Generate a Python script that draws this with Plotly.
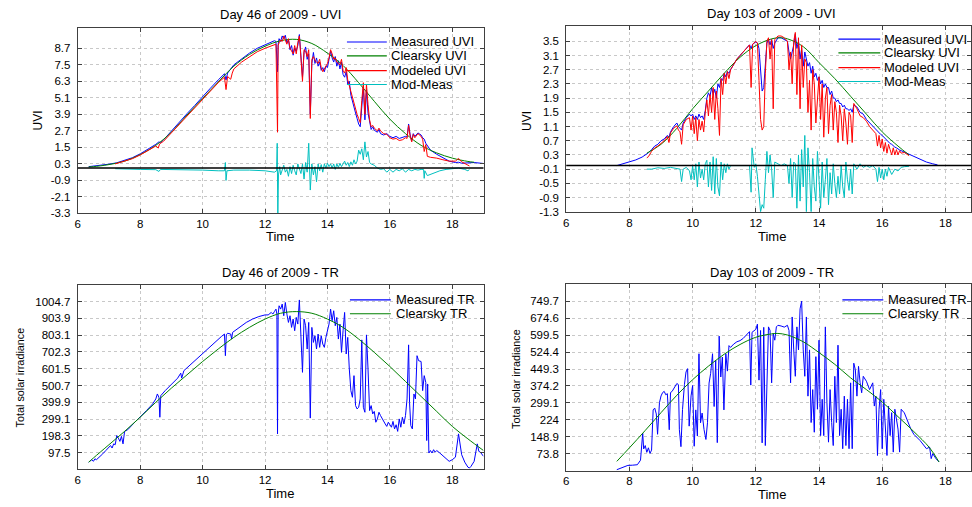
import plotly.graph_objects as go

# ------------------------------------------------------------------ DATA
# ---- Day 46 - UVI
t_cs_46 = [6.35, 6.5, 7.0, 7.5, 8.0, 8.5, 9.0, 9.5, 10.0, 10.5, 11.0, 11.5, 12.0, 12.5,
           13.0, 13.5, 14.0, 14.5, 15.0, 15.5, 16.0, 16.5, 17.0, 17.5, 18.0, 18.5, 18.7]
uvi_cs_46 = [0.08, 0.1, 0.25, 0.5, 0.98, 1.65, 2.6, 3.85, 5.05, 6.25, 7.4, 8.25, 8.85, 9.25,
             9.35, 9.05, 8.35, 7.45, 6.2, 4.85, 3.55, 2.5, 1.65, 1.1, 0.72, 0.48, 0.42]

t_meas_46_early = [6.35, 6.75, 7.0, 7.25, 7.5, 7.75, 8.0, 8.25, 8.5, 8.6,
                   8.65, 8.75, 9.0, 9.25, 9.5, 9.75, 10.0, 10.25, 10.5, 10.7,
                   10.75, 10.8, 11.0, 11.25, 11.5, 11.75, 12.0, 12.15, 12.3]
uvi_meas_46_early = [0.1, 0.2, 0.28, 0.38, 0.55, 0.75, 1.03, 1.35, 1.72, 1.9,
                     1.85, 2.05, 2.7, 3.3, 3.95, 4.55, 5.2, 5.8, 6.4, 6.85,
                     6.4, 6.9, 7.5, 7.95, 8.35, 8.7, 8.95, 9.1, 9.25]

t_mod_46_early = [7.2, 7.5, 7.75, 8.0, 8.25, 8.5, 8.58, 8.62, 8.75, 9.0,
                  9.25, 9.5, 9.75, 10.0, 10.25, 10.5, 10.7, 10.75, 10.8, 10.9,
                  10.95, 11.0, 11.25, 11.5, 11.75, 12.0, 12.15, 12.3]
uvi_mod_46_early = [0.3, 0.48, 0.68, 0.95, 1.25, 1.6, 1.45, 1.75, 1.95, 2.55,
                    3.15, 3.8, 4.4, 5.0, 5.6, 6.2, 6.6, 5.7, 6.65, 6.45,
                    6.9, 7.2, 7.7, 8.1, 8.45, 8.7, 8.85, 9.0]

t_46_noisy = [12.35, 12.40, 12.42, 12.45, 12.50, 12.55, 12.60, 12.65, 12.70, 12.75,
              12.80, 12.85, 12.90, 12.95, 13.00, 13.05, 13.10, 13.15, 13.20, 13.25,
              13.30, 13.35, 13.40, 13.45, 13.50, 13.55, 13.60, 13.65, 13.70, 13.75,
              13.80, 13.85, 13.90, 13.95, 14.00, 14.05, 14.10, 14.15, 14.20, 14.25,
              14.30, 14.35, 14.40, 14.45, 14.50, 14.55, 14.60, 14.65, 14.70, 14.75,
              14.80, 14.85, 14.90, 14.95, 15.00, 15.05, 15.10, 15.15, 15.20, 15.25,
              15.30, 15.35, 15.40, 15.45, 15.50, 15.60, 15.65, 15.70, 15.80, 15.90,
              16.00, 16.10, 16.20, 16.30, 16.40, 16.50, 16.55, 16.60, 16.65, 16.70,
              16.75, 16.80, 16.90, 17.00, 17.05, 17.10, 17.15, 17.20, 17.30, 17.50,
              17.70, 17.90, 18.10, 18.20, 18.30, 18.50, 18.55]
uvi_meas_46_noisy = [9.2, 7.0, 9.0, 9.4, 9.2, 9.6, 9.4, 9.65, 9.1, 9.3,
                     8.6, 8.9, 8.2, 8.7, 8.5, 8.9, 9.7, 8.3, 6.6, 8.4,
                     8.8, 7.9, 8.3, 3.9, 7.6, 8.4, 7.6, 8.0, 7.4, 7.7,
                     7.1, 7.3, 7.0, 7.4, 7.3, 7.9, 8.5, 8.0, 7.7, 8.1,
                     7.4, 7.8, 7.2, 7.7, 6.8, 6.6, 7.0, 6.1, 6.3, 5.3,
                     4.8, 4.3, 4.0, 3.6, 3.2, 3.0, 4.5, 5.9, 3.5, 5.7,
                     4.0, 3.3, 2.8, 3.0, 2.75, 2.6, 2.8, 2.5, 2.4, 2.5,
                     2.3, 2.2, 2.3, 2.15, 2.2, 2.3, 2.25, 3.2, 2.4, 2.0,
                     2.5, 2.3, 2.55, 2.4, 2.2, 2.1, 1.8, 1.6, 1.3, 1.0,
                     0.72, 0.5, 0.4, 0.42, 0.35, 0.38, 0.4]
uvi_mod_46_noisy = [9.0, 2.6, 8.9, 9.1, 9.3, 9.2, 9.6, 9.3, 9.0, 9.4,
                    8.7, 8.5, 8.3, 8.9, 8.3, 9.1, 9.6, 8.0, 6.3, 8.6,
                    8.5, 8.1, 8.6, 3.6, 7.9, 8.1, 7.8, 7.7, 7.6, 7.9,
                    7.3, 7.0, 7.2, 7.3, 7.6, 8.0, 8.6, 8.3, 7.9, 8.0,
                    7.7, 7.6, 7.5, 7.9, 7.1, 6.9, 7.3, 6.4, 6.0, 5.6,
                    5.1, 4.6, 4.3, 3.9, 3.6, 3.3, 4.9, 6.2, 3.9, 6.1,
                    4.6, 3.5, 3.0, 3.1, 2.9, 2.7, 2.9, 2.7, 2.5, 2.45,
                    2.2, 2.1, 2.15, 2.0, 2.05, 2.2, 2.15, 3.1, 2.3, 1.9,
                    2.45, 2.2, 2.5, 2.3, 2.1, 1.2, 1.7, 0.85, 0.78, 0.72,
                    0.6, 0.5, 0.5, 0.7, 0.45, 0.25, 0.15]
t_meas_46_late = [18.7, 19.0]
uvi_meas_46_late = [0.4, 0.33]

t_diff_46 = [7.2, 7.5, 8.0, 8.5, 8.6, 8.65, 9.0, 9.5, 10.0, 10.5,
             10.7, 10.73, 10.75, 10.78, 11.0, 11.5, 12.0, 12.3, 12.37, 12.39,
             12.41, 12.43, 12.47, 12.5, 12.55, 12.6, 12.65, 12.7, 12.75, 12.8,
             12.85, 12.9, 12.95, 13.0, 13.05, 13.1, 13.15, 13.2, 13.25, 13.3,
             13.35, 13.4, 13.42, 13.45, 13.5, 13.55, 13.6, 13.65, 13.7, 13.75,
             13.8, 13.85, 13.9, 13.95, 14.0, 14.05, 14.1, 14.15, 14.2, 14.25,
             14.3, 14.35, 14.4, 14.45, 14.5, 14.55, 14.6, 14.65, 14.7, 14.75,
             14.8, 14.85, 14.9, 14.95, 15.0, 15.05, 15.1, 15.15, 15.2, 15.25,
             15.3, 15.35, 15.4, 15.5, 15.6, 15.7, 15.8, 15.9, 16.0, 16.1,
             16.2, 16.3, 16.4, 16.5, 16.6, 16.7, 16.8, 16.9, 17.0, 17.08,
             17.1, 17.12, 17.2, 17.4, 17.6, 17.8, 18.0, 18.2, 18.4, 18.5,
             18.55]
uvi_diff_46 = [-0.05, -0.08, -0.1, -0.12, -0.25, -0.1, -0.1, -0.12, -0.15, -0.2,
               -0.2, 0.4, -0.9, -0.2, -0.15, -0.15, -0.2, -0.3, -0.2, 1.8,
               -3.6, -0.5, 0.1, -0.5, -0.1, 0.2, -0.3, -0.1, -0.6, 0.1,
               -0.4, 0.2, -0.2, -0.5, 0.3, -0.1, -0.4, 0.3, -0.8, 0.4,
               -0.3, 1.8, -0.3, -1.6, 0.3, -0.5, 0.1, -1.0, 0.3, -0.2,
               0.25, -0.3, 0.3, 0.0, 0.35, 0.1, 0.3, 0.0, 0.3, -0.1,
               0.3, 0.05, 0.35, 0.1, 0.3, 0.5, 0.2, 0.4, 0.1, 0.45,
               0.2, 0.6, 0.3, 0.5, 1.3, 1.0, 1.4, 0.6, 1.9, 0.8,
               1.2, 0.4, 0.3, 0.2, 0.0, -0.1, -0.05, -0.3, -0.1, -0.3,
               -0.1, -0.2, -0.05, -0.3, -0.1, -0.2, -0.1, -0.15, -0.1, -0.1,
               -0.75, -0.2, -0.55, -0.35, -0.2, -0.1, -0.05, 0.0, -0.1, -0.2,
               -0.1]

# ---- Day 103 - UVI
t_cs_103 = [8.55, 9.0, 9.5, 10.0, 10.5, 11.0, 11.5, 12.0, 12.5, 12.75,
            13.0, 13.5, 14.0, 14.5, 15.0, 15.5, 16.0, 16.5, 16.85]
uvi_cs_103 = [0.35, 0.6, 1.05, 1.6, 2.1, 2.6, 3.05, 3.38, 3.57, 3.6,
              3.57, 3.35, 2.9, 2.45, 1.95, 1.45, 0.95, 0.55, 0.3]

t_103 = [8.55, 8.6, 8.7, 8.8, 8.9, 9.0, 9.1, 9.2, 9.25, 9.3,
         9.4, 9.5, 9.55, 9.6, 9.65, 9.7, 9.8, 9.9, 9.95, 10.0,
         10.05, 10.1, 10.15, 10.2, 10.25, 10.3, 10.35, 10.4, 10.45, 10.5,
         10.55, 10.6, 10.65, 10.7, 10.75, 10.8, 10.85, 10.9, 10.95, 11.0,
         11.05, 11.1, 11.15, 11.2, 11.3, 11.4, 11.5, 11.6, 11.7, 11.8,
         11.85, 11.9, 12.0, 12.05, 12.1, 12.15, 12.2, 12.25, 12.3, 12.35,
         12.4, 12.45, 12.5, 12.55, 12.6, 12.7, 12.8, 12.9, 13.0, 13.05,
         13.1, 13.15, 13.2, 13.25, 13.3, 13.35, 13.4, 13.45, 13.5, 13.55,
         13.6, 13.65, 13.7, 13.75, 13.8, 13.85, 13.9, 13.95, 14.0, 14.05,
         14.1, 14.15, 14.2, 14.25, 14.3, 14.35, 14.4, 14.45, 14.5, 14.55,
         14.6, 14.65, 14.7, 14.75, 14.8, 14.85, 14.9, 14.95, 15.0, 15.05,
         15.1, 15.2, 15.3, 15.4, 15.5, 15.6, 15.7, 15.8, 15.85, 15.9,
         15.95, 16.0, 16.05, 16.1, 16.15, 16.2, 16.25, 16.3, 16.35, 16.4,
         16.45, 16.5, 16.55, 16.6, 16.7, 16.8, 16.85]
uvi_meas_103_mid = [0.32, 0.36, 0.45, 0.55, 0.6, 0.7, 0.75, 0.85, 0.8, 0.95,
                    1.1, 1.2, 1.1, 1.05, 1.0, 1.2, 1.35, 1.45, 1.4, 1.45,
                    1.3, 1.4, 1.3, 1.45, 1.35, 1.4, 1.3, 1.55, 1.9, 2.05,
                    1.95, 2.2, 2.0, 2.15, 1.9, 2.3, 2.2, 2.45, 2.4, 2.6,
                    2.5, 2.65, 2.6, 2.7, 2.85, 3.0, 3.1, 3.2, 3.3, 3.4,
                    3.3, 3.42, 3.48, 3.45, 3.3, 2.6, 2.1, 2.2, 3.0, 3.45,
                    3.55, 3.4, 3.55, 3.3, 3.45, 3.6, 3.6, 3.55, 3.5, 3.2,
                    3.0, 3.2, 3.4, 3.7, 3.3, 3.5, 3.0, 3.3, 2.8, 3.2,
                    3.0, 2.8, 2.9, 2.6, 2.8, 2.5, 2.6, 2.4, 2.5, 2.3,
                    2.4, 2.2, 2.3, 2.2, 2.2, 2.0, 2.1, 1.9, 1.9, 1.8,
                    1.85, 1.75, 1.75, 1.65, 1.7, 1.6, 1.6, 1.55, 1.6, 1.5,
                    1.7, 1.65, 1.5, 1.45, 1.3, 1.2, 1.1, 1.0, 0.95, 0.92,
                    0.88, 0.85, 0.8, 0.75, 0.7, 0.68, 0.62, 0.6, 0.55, 0.52,
                    0.5, 0.46, 0.44, 0.42, 0.38, 0.33, 0.3]
uvi_mod_103 = [0.22, 0.25, 0.4, 0.5, 0.55, 0.62, 0.7, 0.82, 0.65, 0.92,
               1.05, 1.12, 1.0, 0.95, 0.6, 1.15, 1.3, 1.35, 1.0, 1.4,
               0.9, 1.35, 0.7, 1.3, 1.0, 1.25, 0.95, 1.5, 1.85, 1.4,
               2.0, 1.5, 2.2, 1.3, 2.1, 1.6, 0.85, 2.45, 2.0, 2.6,
               2.3, 2.65, 2.45, 2.7, 2.85, 3.0, 3.1, 3.2, 3.3, 3.4,
               2.2, 3.42, 3.5, 3.45, 2.4, 1.3, 1.0, 1.1, 2.6, 3.5,
               3.6, 3.0, 3.55, 1.6, 3.55, 3.65, 3.65, 3.6, 3.5, 2.7,
               3.2, 2.3, 3.5, 3.75, 2.0, 3.6, 1.6, 3.4, 2.2, 3.0,
               2.9, 1.5, 2.4, 1.0, 2.7, 2.3, 1.2, 1.8, 2.5, 1.3,
               2.3, 0.8, 1.9, 2.2, 0.9, 1.7, 2.0, 1.0, 1.8, 1.5,
               0.65, 1.7, 1.4, 0.7, 1.6, 1.2, 0.6, 1.5, 1.4, 0.65,
               1.75, 1.6, 1.4, 1.35, 1.25, 1.1, 1.0, 0.9, 0.55, 0.85,
               0.5, 0.75, 0.4, 0.65, 0.35, 0.6, 0.45, 0.3, 0.5, 0.3,
               0.45, 0.3, 0.42, 0.35, 0.37, 0.32, 0.28]
t_meas_103_early = [7.6, 7.8, 8.0, 8.2, 8.4]
uvi_meas_103_early = [0.0, 0.05, 0.1, 0.16, 0.24]
t_meas_103_late = [17.0, 17.2, 17.4, 17.6, 17.75]
uvi_meas_103_late = [0.24, 0.16, 0.1, 0.05, 0.02]

t_diff_103 = [8.55, 8.7, 8.9, 9.1, 9.3, 9.5, 9.6, 9.65, 9.7, 9.8,
              9.9, 9.95, 10.0, 10.05, 10.1, 10.15, 10.2, 10.25, 10.3, 10.35,
              10.4, 10.45, 10.5, 10.55, 10.6, 10.65, 10.7, 10.75, 10.8, 10.85,
              10.9, 10.95, 11.0, 11.05, 11.1, 11.15, 11.2, 11.5, 11.8, 11.85,
              11.88, 11.95, 12.0, 12.05, 12.1, 12.15, 12.2, 12.25, 12.3, 12.35,
              12.4, 12.45, 12.5, 12.55, 12.6, 12.7, 12.8, 12.9, 13.0, 13.05,
              13.1, 13.15, 13.2, 13.25, 13.3, 13.35, 13.4, 13.45, 13.5, 13.55,
              13.6, 13.65, 13.7, 13.75, 13.8, 13.85, 13.9, 13.95, 14.0, 14.05,
              14.1, 14.15, 14.2, 14.25, 14.3, 14.35, 14.4, 14.45, 14.5, 14.55,
              14.6, 14.65, 14.7, 14.75, 14.8, 14.85, 14.9, 14.95, 15.0, 15.05,
              15.1, 15.2, 15.3, 15.4, 15.5, 15.6, 15.7, 15.8, 15.85, 15.9,
              15.95, 16.0, 16.05, 16.1, 16.15, 16.2, 16.3, 16.4, 16.5, 16.6,
              16.7, 16.85]
uvi_diff_103 = [-0.1, -0.1, -0.06, -0.08, -0.05, -0.08, -0.1, -0.45, -0.1, -0.05,
                -0.15, -0.4, 0.0, -0.4, 0.05, -0.6, 0.1, -0.35, -0.1, -0.4,
                0.05, 0.15, -0.6, 0.1, -0.7, 0.25, -0.8, 0.2, -0.6, -0.85,
                0.1, -0.4, 0.05, -0.2, 0.05, -0.1, 0.0, 0.0, 0.0, -0.75,
                0.5, -0.05, 0.05, -0.3, -0.9, -1.3, -1.1, -1.2, -0.4, 0.4,
                -0.2, 0.3, -0.1, -0.9, 0.1, 0.05, 0.0, 0.05, 0.0, -0.5,
                0.2, -0.9, 0.1, 0.05, -1.2, 0.3, -1.0, 0.45, -0.6, 0.85,
                -1.3, 0.5, -0.2, -1.3, 0.2, -0.6, -1.0, 0.4, -0.3, -1.2,
                0.1, -0.9, -0.4, 0.2, -1.1, -0.2, -0.8, 0.05, -0.5, -0.9,
                -0.3, -0.8, 0.0, -0.6, -0.9, 0.1, -0.4, -0.7, -0.1, -0.8,
                0.05, -0.1, 0.05, -0.05, 0.0, -0.05, 0.0, -0.1, -0.45, -0.05,
                -0.35, -0.1, -0.4, -0.1, -0.3, -0.05, -0.25, -0.1, -0.15, -0.05,
                -0.03, -0.02]

# ---- Day 46 - TR
t_tr_cs_46 = [6.35, 6.5, 7.0, 7.5, 8.0, 8.5, 9.0, 9.5, 10.0, 10.5, 11.0, 11.5, 12.0, 12.5,
              13.0, 13.5, 14.0, 14.5, 15.0, 15.5, 16.0, 16.5, 17.0, 17.5, 18.0, 18.5, 19.0]
tr_cs_46 = [40, 65, 145, 225, 310, 400, 485, 565, 645, 720, 790, 850, 900, 935,
            945, 935, 900, 850, 780, 700, 615, 525, 435, 345, 255, 180, 110]

t_tr_meas_46 = [6.35, 6.45, 6.5, 6.55, 6.6, 6.7, 6.8, 6.9, 7.0, 7.05,
                7.1, 7.15, 7.2, 7.25, 7.3, 7.35, 7.4, 7.45, 7.5, 7.6,
                7.8, 8.0, 8.2, 8.4, 8.5, 8.55, 8.6, 8.63, 8.66, 8.8,
                9.0, 9.2, 9.3, 9.33, 9.4, 9.6, 9.8, 10.0, 10.2, 10.4,
                10.6, 10.7, 10.73, 10.76, 10.8, 10.9, 10.93, 10.96, 11.2, 11.4,
                11.6, 11.8, 12.0, 12.1, 12.2, 12.25, 12.3, 12.35, 12.38, 12.4,
                12.42, 12.45, 12.5, 12.55, 12.6, 12.65, 12.7, 12.75, 12.8, 12.85,
                12.9, 12.95, 13.0, 13.05, 13.1, 13.15, 13.2, 13.25, 13.3, 13.35,
                13.4, 13.45, 13.5, 13.55, 13.6, 13.65, 13.7, 13.75, 13.8, 13.85,
                13.9, 13.95, 14.0, 14.05, 14.1, 14.15, 14.2, 14.25, 14.3, 14.35,
                14.4, 14.45, 14.5, 14.55, 14.6, 14.65, 14.7, 14.75, 14.8, 14.85,
                14.9, 14.95, 15.0, 15.05, 15.1, 15.15, 15.2, 15.25, 15.3, 15.35,
                15.4, 15.45, 15.5, 15.55, 15.6, 15.65, 15.7, 15.75, 15.8, 15.85,
                15.9, 15.95, 16.0, 16.05, 16.1, 16.15, 16.2, 16.25, 16.3, 16.35,
                16.4, 16.45, 16.5, 16.55, 16.6, 16.63, 16.67, 16.72, 16.77, 16.82,
                16.87, 16.92, 17.0, 17.05, 17.1, 17.15, 17.18, 17.21, 17.25, 17.3,
                17.35, 17.4, 17.45, 17.5, 17.6, 17.7, 17.8, 17.9, 18.0, 18.1,
                18.2, 18.25, 18.3, 18.4, 18.5, 18.55, 18.6, 18.7, 18.8, 18.85,
                18.9, 19.0]
tr_meas_46 = [40, 55, 45, 60, 55, 70, 90, 110, 130, 140,
              125, 150, 145, 200, 185, 165, 195, 150, 225, 235,
              275, 310, 350, 390, 420, 450, 430, 310, 440, 470,
              505, 545, 575, 545, 590, 625, 660, 695, 730, 765,
              795, 810, 680, 805, 815, 810, 780, 820, 855, 880,
              900, 915, 925, 925, 940, 930, 945, 960, 930, 210,
              930, 980, 960, 990, 920, 1000, 930, 880, 920, 850,
              900, 830, 910, 870, 1015, 820, 580, 900, 860, 720,
              880, 305, 850, 760, 800, 720, 810, 730, 800, 750,
              730, 790, 830, 870, 960, 890, 950, 860, 910, 780,
              870, 700, 830, 940, 690, 790, 600, 470, 430, 560,
              380, 360, 370, 420, 775, 370, 340, 805, 600, 350,
              380, 330, 345, 280, 300, 340, 320, 300, 280, 270,
              255, 280, 265, 250, 285, 240, 265, 225, 300, 250,
              310, 270, 320, 420, 745, 400, 260, 240, 450, 420,
              680, 650, 645, 470, 560, 520, 170, 510, 95, 110,
              95, 115, 100, 110, 95, 80, 60, 45, 55, 70,
              210, 130, 85, 40, 10, 5, 15, 45, 150, 105,
              100, 75]

# ---- Day 103 - TR
t_tr_cs_103 = [7.6, 8.0, 8.5, 9.0, 9.5, 10.0, 10.5, 11.0, 11.5, 12.0, 12.5, 12.7,
               13.0, 13.5, 14.0, 14.5, 15.0, 15.5, 16.0, 16.5, 17.0, 17.5, 17.8]
tr_cs_103 = [40, 100, 177, 256, 333, 402, 462, 515, 558, 590, 605, 607,
             600, 570, 522, 470, 410, 358, 303, 238, 172, 100, 37]

t_tr_meas_103 = [7.6, 7.8, 7.95, 8.1, 8.25, 8.35, 8.42, 8.45, 8.5, 8.55,
                 8.6, 8.65, 8.7, 8.75, 8.8, 8.85, 8.89, 8.95, 9.0, 9.05,
                 9.1, 9.15, 9.2, 9.26, 9.3, 9.35, 9.4, 9.45, 9.5, 9.55,
                 9.58, 9.63, 9.68, 9.74, 9.79, 9.84, 9.89, 9.95, 10.0, 10.05,
                 10.1, 10.15, 10.2, 10.25, 10.3, 10.36, 10.42, 10.47, 10.52, 10.57,
                 10.63, 10.68, 10.73, 10.78, 10.84, 10.89, 10.94, 10.99, 11.05, 11.1,
                 11.15, 11.2, 11.3, 11.4, 11.5, 11.6, 11.7, 11.8, 11.84, 11.88,
                 12.0, 12.05, 12.1, 12.15, 12.2, 12.25, 12.3, 12.35, 12.4, 12.45,
                 12.5, 12.55, 12.6, 12.65, 12.7, 12.8, 12.9, 13.0, 13.05, 13.1,
                 13.15, 13.2, 13.25, 13.3, 13.35, 13.4, 13.45, 13.5, 13.55, 13.6,
                 13.65, 13.7, 13.75, 13.8, 13.85, 13.9, 13.95, 14.0, 14.05, 14.1,
                 14.15, 14.2, 14.25, 14.3, 14.35, 14.4, 14.45, 14.5, 14.55, 14.6,
                 14.65, 14.7, 14.75, 14.8, 14.85, 14.9, 14.95, 15.0, 15.05, 15.1,
                 15.15, 15.2, 15.25, 15.3, 15.35, 15.4, 15.5, 15.6, 15.7, 15.75,
                 15.8, 15.85, 15.9, 15.95, 16.0, 16.05, 16.1, 16.15, 16.2, 16.25,
                 16.3, 16.35, 16.4, 16.5, 16.55, 16.6, 16.7, 16.8, 16.9, 17.0,
                 17.2, 17.4, 17.5, 17.55, 17.6, 17.7, 17.8]
tr_meas_103 = [3, 12, 22, 23, 25, 45, 165, 95, 110, 80,
               100, 75, 90, 268, 276, 250, 160, 300, 330, 345,
               350, 335, 340, 180, 345, 350, 360, 370, 385, 380,
               180, 105, 270, 380, 436, 451, 196, 330, 376, 107,
               268, 152, 517, 211, 254, 181, 137, 211, 387, 430,
               517, 283, 488, 123, 595, 414, 502, 268, 517, 440,
               553, 545, 560, 570, 575, 585, 600, 615, 378, 612,
               625, 648, 400, 620, 122, 634, 110, 400, 636, 620,
               388, 607, 577, 636, 643, 640, 635, 643, 620, 388,
               680, 534, 417, 636, 534, 716, 750, 534, 417, 680,
               329, 534, 212, 358, 169, 504, 271, 577, 154, 315,
               154, 636, 300, 125, 358, 212, 110, 417, 212, 555,
               154, 271, 96, 329, 110, 315, 96, 388, 96, 475,
               446, 329, 461, 388, 344, 417, 395, 358, 388, 285,
               329, 66, 271, 358, 96, 315, 212, 66, 285, 154,
               256, 81, 271, 183, 81, 271, 255, 215, 185, 160,
               132, 96, 103, 52, 74, 52, 37]

# ---- axis ticks / labels
x_ticks = [6, 8, 10, 12, 14, 16, 18]
y_ticks_uvi_46 = [-3.3, -2.1, -0.9, 0.3, 1.5, 2.7, 3.9, 5.1, 6.3, 7.5, 8.7]
y_ticks_uvi_103 = [-1.3, -0.9, -0.5, -0.1, 0.3, 0.7, 1.1, 1.5, 1.9, 2.3, 2.7, 3.1, 3.5]
y_ticks_tr_46 = [97.5, 198.3, 299.1, 399.9, 500.7, 601.5, 702.3, 803.1, 903.9, 1004.7]
y_ticks_tr_103 = [73.8, 148.9, 224, 299.1, 374.2, 449.3, 524.4, 599.5, 674.6, 749.7]

titles = ["Day 46 of 2009 - UVI", "Day 103 of 2009 - UVI",
          "Day 46 of 2009 - TR", "Day 103 of 2009 - TR"]
legend_uvi = ["Measured UVI", "Clearsky UVI", "Modeled UVI", "Mod-Meas"]
legend_tr = ["Measured TR", "Clearsky TR"]

# ------------------------------------------------------------------ STYLE
W, H = 972, 507
FONT = "Liberation Sans, Arial, sans-serif"
BLUE, GREEN, RED, CYAN = "#0000FF", "#008000", "#FF0000", "#00BFBF"
FRAME = "#404040"
GRID = "#c8c8c8"


def px(x):
    return x / W


def py(y):
    return 1 - y / H


fig = go.Figure()


def line(x, y, color, name, xa, ya, shape="linear"):
    fig.add_trace(go.Scatter(x=x, y=y, mode="lines", name=name, showlegend=False,
                             line=dict(color=color, width=1, shape=shape),
                             xaxis=xa, yaxis=ya, hoverinfo="skip"))


# top-left: Day 46 UVI
line(t_meas_46_early + t_46_noisy + t_meas_46_late,
     uvi_meas_46_early + uvi_meas_46_noisy + uvi_meas_46_late, BLUE, legend_uvi[0], "x", "y")
line(t_cs_46, uvi_cs_46, GREEN, legend_uvi[1], "x", "y", "spline")
line(t_mod_46_early + t_46_noisy, uvi_mod_46_early + uvi_mod_46_noisy, RED, legend_uvi[2], "x", "y")
line(t_diff_46, uvi_diff_46, CYAN, legend_uvi[3], "x", "y")

# top-right: Day 103 UVI
line(t_meas_103_early + t_103 + t_meas_103_late,
     uvi_meas_103_early + uvi_meas_103_mid + uvi_meas_103_late, BLUE, legend_uvi[0], "x2", "y2")
line(t_cs_103, uvi_cs_103, GREEN, legend_uvi[1], "x2", "y2", "spline")
line(t_103, uvi_mod_103, RED, legend_uvi[2], "x2", "y2")
line(t_diff_103, uvi_diff_103, CYAN, legend_uvi[3], "x2", "y2")

# bottom-left: Day 46 TR
line(t_tr_meas_46, tr_meas_46, BLUE, legend_tr[0], "x3", "y3")
line(t_tr_cs_46, tr_cs_46, GREEN, legend_tr[1], "x3", "y3", "spline")

# bottom-right: Day 103 TR
line(t_tr_meas_103, tr_meas_103, BLUE, legend_tr[0], "x4", "y4")
line(t_tr_cs_103, tr_cs_103, GREEN, legend_tr[1], "x4", "y4", "spline")

common = dict(showline=True, linecolor=FRAME, linewidth=1, mirror="ticks",
              ticks="inside", ticklen=4, tickcolor=FRAME, tickwidth=1,
              showgrid=True, gridcolor=GRID, griddash="3px,3px", gridwidth=1,
              zeroline=False, tickfont=dict(family=FONT, size=11.5, color="black"))


def xaxis(dom, rng, anchor):
    return dict(domain=[px(dom[0]), px(dom[1])], range=rng, anchor=anchor,
                tickvals=x_ticks, ticktext=[str(v) for v in x_ticks], **common)


def yaxis(dom, rng, anchor, ticks):
    return dict(domain=[py(dom[1]), py(dom[0])], range=rng, anchor=anchor,
                tickvals=ticks, ticktext=[str(v) for v in ticks],
                ticklabelstandoff=4, **common)


fig.update_layout(
    width=W, height=H, margin=dict(l=0, r=0, t=0, b=0),
    paper_bgcolor="white", plot_bgcolor="white",
    font=dict(family=FONT, color="black"),
    showlegend=False,
    xaxis=xaxis((75, 482), [6, 19], "y"),
    yaxis=yaxis((28, 216), [-3.3, 10.2], "x", y_ticks_uvi_46),
    xaxis2=xaxis((565, 971), [6, 18.81], "y2"),
    yaxis2=yaxis((26, 214.3), [-1.3, 3.94], "x2", y_ticks_uvi_103),
    xaxis3=xaxis((75, 482), [6, 19], "y3"),
    yaxis3=yaxis((288.3, 475), [-3.3, 1105.5], "x3", y_ticks_tr_46),
    xaxis4=xaxis((565, 971), [6, 18.81], "y4"),
    yaxis4=yaxis((287.7, 476.3), [-1.3, 824.8], "x4", y_ticks_tr_103),
)

# zero reference lines on UVI panels
for xr, yr in (("x domain", "y"), ("x2 domain", "y2")):
    fig.add_shape(type="line", xref=xr, yref=yr, x0=0, x1=1, y0=0, y1=0,
                  line=dict(color="black", width=1.5), layer="above")

annos = []


def text(s, x, y, size, angle=0, anchor="center"):
    annos.append(dict(text=s, x=px(x), y=py(y), xref="paper", yref="paper",
                      xanchor=anchor, yanchor="middle", showarrow=False, textangle=angle,
                      borderpad=0, font=dict(family=FONT, size=size, color="black")))


# titles
text(titles[0], 278, 15, 13)
text(titles[1], 771, 14, 13)
text(titles[2], 278, 276, 13)
text(titles[3], 771, 276, 13)
# x titles
text("Time", 278, 239, 13)
text("Time", 771, 239, 13)
text("Time", 278, 499, 13)
text("Time", 771, 500, 13)
# y titles
text("UVI", 35, 122, 12, -90)
text("UVI", 525, 122, 12, -90)
text("Total solar irradiance", 18, 382, 10.8, -90)
text("Total solar irradiance", 515, 383, 10.8, -90)

# legends (no box, drawn inside the axes)
legend_specs = [
    (legend_uvi, [BLUE, GREEN, RED, CYAN], 345, 385, 388, 42.5, 14.3),
    (legend_uvi, [BLUE, GREEN, RED, CYAN], 838, 880, 883, 39.5, 14.3),
    (legend_tr, [BLUE, GREEN], 348, 389, 393, 303.5, 14.0),
    (legend_tr, [BLUE, GREEN], 842, 883, 887, 303.5, 14.0),
]
for names, cols, xa, xb, xt, y0, dy in legend_specs:
    for i, (nm, c) in enumerate(zip(names, cols)):
        yy = int(y0 + i * dy) + 0.5
        fig.add_shape(type="line", xref="paper", yref="paper", x0=px(xa), x1=px(xb),
                      y0=py(yy), y1=py(yy), line=dict(color=c, width=1.2), layer="above")
        text(nm, xt, yy, 13, 0, "left")

fig.update_layout(annotations=annos)
fig.write_html("out.html", config={"displayModeBar": False},
               post_script="document.body.style.margin='0px';document.body.style.overflow='hidden';")
